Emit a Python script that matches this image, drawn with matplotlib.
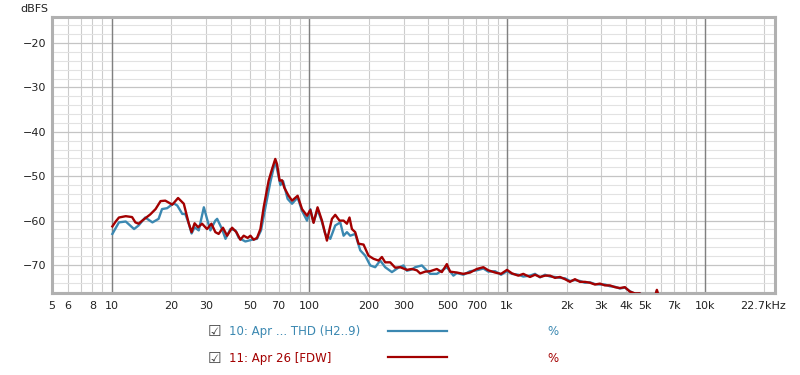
import matplotlib
matplotlib.use("Agg")
import matplotlib.pyplot as plt
from matplotlib.ticker import FixedLocator, LogLocator, MultipleLocator, NullFormatter
from matplotlib.lines import Line2D
from matplotlib.transforms import ScaledTranslation

# frequency ticks shown on the x axis
xtick_freqs = [5, 6, 8, 10, 20, 30, 50, 70, 100, 200, 300, 500, 700,
               1000, 2000, 3000, 4000, 5000, 7000, 10000, 22700]
xtick_labels = ["5", "6", "8", "10", "20", "30", "50", "70", "100", "200", "300",
                "500", "700", "1k", "2k", "3k", "4k", "5k", "7k", "10k", "22.7kHz"]
ytick_vals = [-70, -60, -50, -40, -30, -20]

# series 10: THD (H2..9), blue
thd_freq = [10.1, 10.9, 11.8, 13.0, 13.7, 14.8, 16.1, 17.3, 18.0, 19.1, 20.6, 21.5,
            22.8, 23.6, 24.6, 25.4, 26.3, 27.6, 29.3, 30.4, 31.6, 33.5, 34.2, 36.2,
            37.7, 39.9, 42.3, 44.0, 47.5, 51.4, 54.4, 57.0, 60.0, 63.5, 67.3, 70.0,
            71.4, 73.7, 77.7, 81.8, 87.3, 91.9, 97.4, 101.2, 105.1, 110.1, 115.9,
            120.4, 127.7, 135.3, 143.4, 149.1, 155.0, 161.1, 170.7, 181.0, 191.8,
            203.3, 215.4, 228.4, 242.0, 261.7, 282.5, 299.5, 311.5, 330.2, 343.1,
            370.9, 408.4, 441.6, 496.1, 535.6, 557.2, 601.5, 650.4, 703.1, 759.0,
            804.5, 869.8, 932.6, 1000, 1060, 1140, 1209, 1307, 1385, 1468, 1556,
            1649, 1748, 1852, 1963, 2081, 2205, 2337, 2477, 2626, 2783, 2949, 3126,
            3313, 3511, 3722, 3944, 4180, 4431, 4696, 4977, 5275, 5525, 5723, 5927,
            6210]
thd_db = [-63.0, -60.4, -60.2, -61.9, -61.1, -59.3, -60.4, -59.6, -57.4, -57.2, -56.1,
          -56.6, -58.5, -58.5, -60.7, -62.9, -61.5, -62.2, -57.0, -59.6, -62.2, -60.0,
          -59.6, -61.9, -64.1, -61.9, -62.2, -63.9, -64.7, -64.3, -64.1, -62.2, -57.0,
          -51.4, -46.5, -50.1, -52.0, -51.1, -55.1, -56.2, -54.8, -57.8, -60.0, -57.4,
          -60.4, -57.5, -60.3, -63.0, -64.1, -61.1, -60.4, -63.4, -62.6, -63.4, -63.0,
          -66.7, -67.9, -70.1, -70.5, -69.0, -70.5, -71.6, -70.6, -70.1, -71.3, -71.0,
          -70.5, -70.1, -72.0, -72.0, -70.5, -72.4, -71.8, -72.2, -71.4, -71.2, -70.8,
          -71.5, -71.4, -72.2, -71.4, -72.0, -72.2, -72.6, -72.4, -72.0, -72.8, -72.2,
          -72.6, -72.7, -72.9, -73.0, -73.6, -73.4, -73.6, -74.0, -73.9, -74.3, -74.4,
          -74.4, -74.8, -74.9, -75.3, -75.1, -75.9, -76.5, -76.4, -77.6, -78.6, -78.1,
          -75.8, -78.2, -79.0]

# series 11: Apr 26 [FDW], dark red
fdw_freq = [10.1, 10.5, 10.9, 11.8, 12.7, 13.2, 13.7, 14.3, 15.7, 16.7, 17.7, 18.7,
            20.3, 21.7, 23.2, 24.6, 25.4, 26.3, 27.4, 28.7, 30.4, 32.0, 33.5, 34.8,
            36.6, 38.4, 40.7, 42.8, 44.8, 46.6, 48.8, 50.4, 52.3, 54.4, 56.6, 58.8,
            62.3, 64.8, 67.3, 68.7, 70.8, 72.8, 74.8, 78.6, 81.8, 87.3, 91.9, 97.4,
            101.2, 105.1, 110.1, 115.9, 122.8, 130.2, 135.3, 142.2, 149.1, 155.0,
            159.7, 164.3, 170.7, 177.4, 188.1, 199.3, 211.2, 223.9, 232.9, 242.0,
            256.5, 271.8, 288.2, 311.5, 330.2, 350.0, 363.7, 385.4, 408.4, 441.6,
            468.1, 496.1, 515.4, 557.2, 601.5, 650.4, 703.1, 759.0, 804.5, 869.8,
            932.6, 1000, 1060, 1140, 1209, 1233, 1307, 1385, 1468, 1556, 1649, 1748,
            1852, 1963, 2081, 2205, 2337, 2477, 2626, 2783, 2949, 3126, 3313, 3511,
            3722, 3944, 4180, 4431, 4696, 4977, 5275, 5525, 5723, 5927, 6210]
fdw_db = [-61.3, -60.2, -59.3, -59.0, -59.2, -60.4, -60.7, -60.0, -58.6, -57.4, -55.6,
          -55.5, -56.4, -54.9, -56.2, -60.7, -62.6, -60.6, -61.5, -60.7, -61.9, -60.7,
          -62.6, -63.0, -61.6, -63.4, -61.6, -62.6, -64.3, -63.4, -63.9, -63.4, -64.3,
          -63.9, -61.9, -57.0, -51.0, -48.4, -46.1, -47.3, -51.0, -50.9, -52.6, -54.4,
          -55.5, -54.4, -57.4, -58.9, -57.6, -60.5, -57.0, -60.0, -64.5, -59.6, -58.7,
          -60.0, -60.0, -60.7, -59.3, -61.9, -62.6, -65.2, -65.4, -67.9, -68.6, -69.0,
          -68.2, -69.4, -69.4, -70.6, -70.5, -71.1, -70.9, -71.2, -71.9, -71.5, -71.4,
          -70.9, -71.6, -69.8, -71.5, -71.7, -72.0, -71.7, -70.9, -70.5, -71.2, -71.7,
          -72.0, -71.1, -71.9, -72.4, -72.0, -72.2, -72.7, -72.2, -72.7, -72.4, -72.4,
          -72.9, -72.7, -73.2, -73.8, -73.2, -73.8, -73.8, -74.0, -74.4, -74.2, -74.6,
          -74.6, -75.0, -75.2, -75.0, -76.0, -76.4, -76.4, -77.5, -78.5, -78.0, -75.6,
          -78.0, -79.0]

legend_names = ["10: Apr ... THD (H2..9)", "11: Apr 26 [FDW]"]
blue = "#3b88b1"
red = "#a30000"

fig = plt.figure(figsize=(8, 3.75), dpi=100)
ax = fig.add_axes([0.065, 0.22, 0.904, 0.736])

ax.semilogx(thd_freq, thd_db, color=blue, lw=1.7, zorder=3)
ax.semilogx(fdw_freq, fdw_db, color=red, lw=1.7, zorder=4)

ax.set_xlim(5, 22700)
ax.set_ylim(-76.2, -14.0)

ax.xaxis.set_major_locator(FixedLocator(xtick_freqs))
ax.set_xticklabels(xtick_labels)
ax.xaxis.set_minor_locator(LogLocator(base=10, subs=range(1, 10), numticks=20))
ax.xaxis.set_minor_formatter(NullFormatter())
ax.xaxis.remove_overlapping_locs = False
ax.yaxis.set_major_locator(FixedLocator(ytick_vals))
ax.yaxis.set_minor_locator(MultipleLocator(2))
ax.yaxis.set_minor_formatter(NullFormatter())

ax.tick_params(which="both", length=0, labelsize=8, colors="#222222")
ax.tick_params(axis="x", pad=6)
ax.tick_params(axis="y", pad=4)

# nudge the last label left a little, like the reference
last = ax.get_xticklabels()[-1]
last.set_transform(last.get_transform() + ScaledTranslation(-9 / 72, 0, fig.dpi_scale_trans))

ax.grid(which="minor", axis="x", color="#cccccc", lw=0.8)
ax.grid(which="minor", axis="y", color="#e2e2e2", lw=0.8)
ax.grid(which="major", axis="y", color="#c4c4c4", lw=0.9)
for dec in [10, 100, 1000, 10000]:
    ax.axvline(dec, color="#808080", lw=1.0, zorder=1)
ax.set_axisbelow(True)

for sp in ax.spines.values():
    sp.set_color("#b0b0b0")
    sp.set_linewidth(2.2)

fig.text(0.061, 0.975, "dBFS", ha="right", va="center", fontsize=8, color="#222222")

# legend block below the plot
rows_y = [0.115, 0.045]
for name, col, y in zip(legend_names, [blue, red], rows_y):
    fig.text(0.268, y, "\u2611", ha="center", va="center", fontsize=11, color="#444444")
    fig.text(0.286, y, name, ha="left", va="center", fontsize=8.5, color=col)
    fig.add_artist(Line2D([0.485, 0.559], [y + 0.003, y + 0.003], color=col, lw=1.6,
                          transform=fig.transFigure))
    fig.text(0.691, y, "%", ha="center", va="center", fontsize=8.5, color=col)

fig.savefig("out.png", dpi=100)
